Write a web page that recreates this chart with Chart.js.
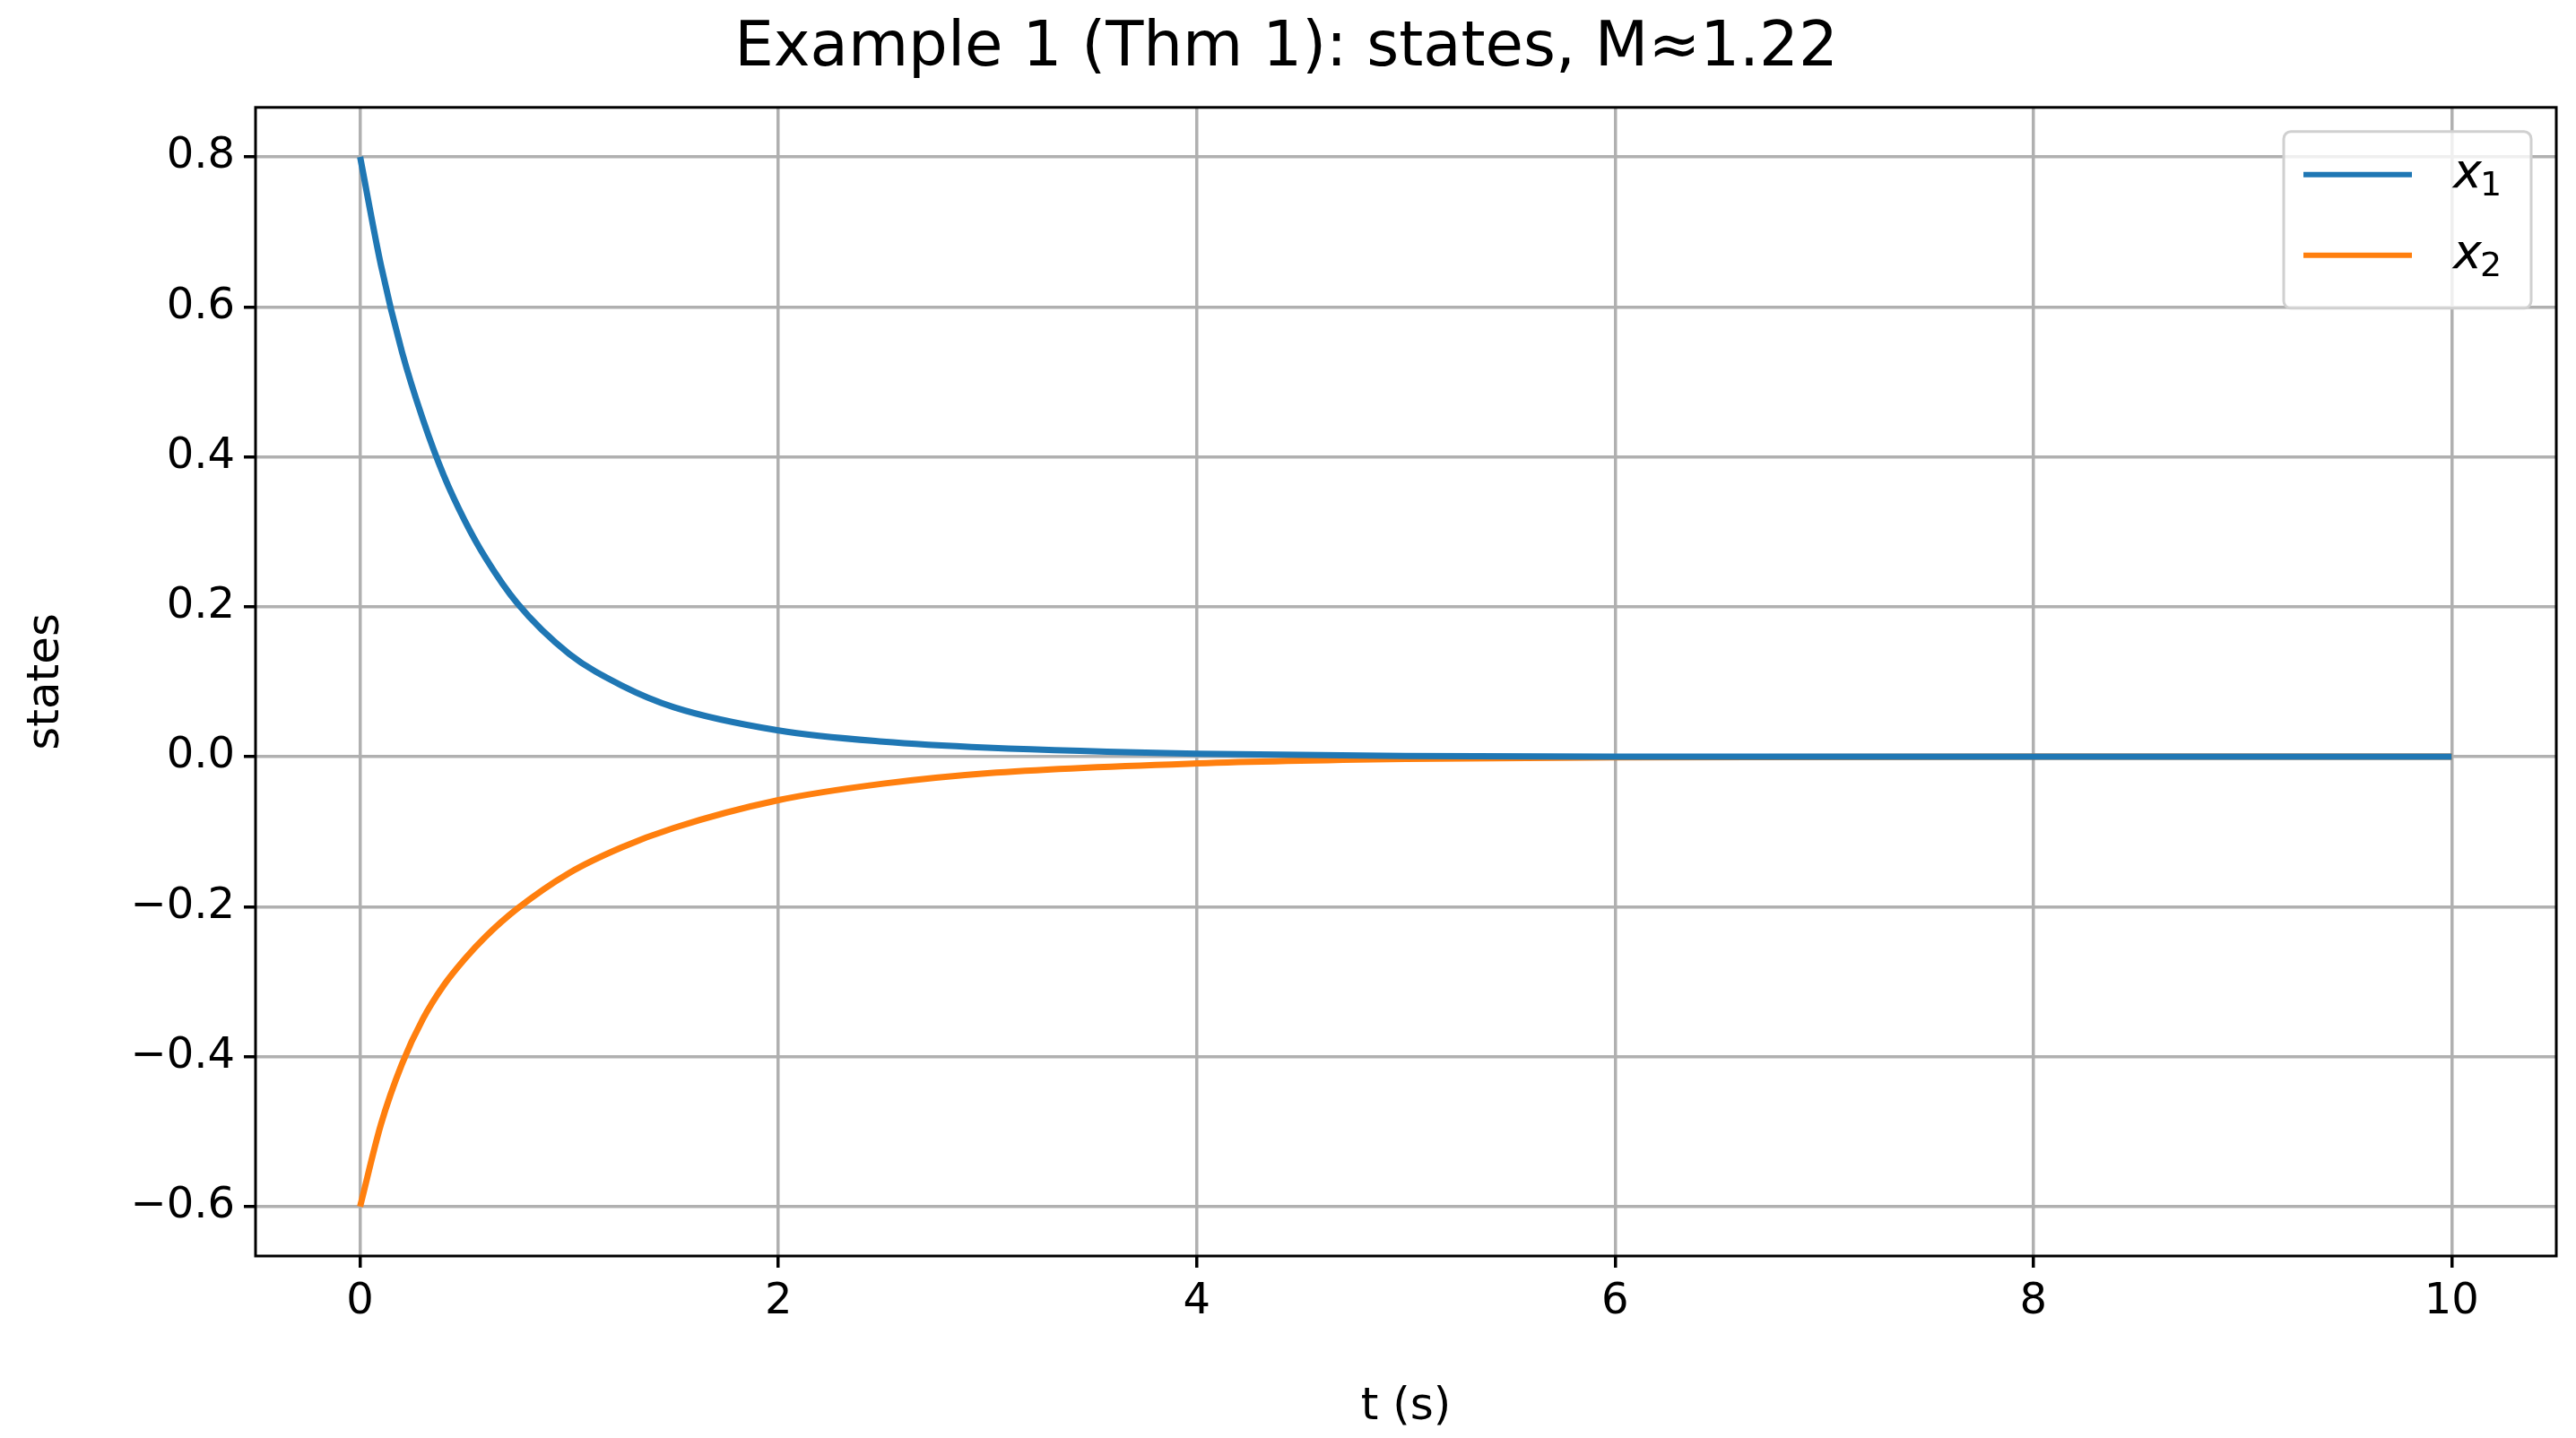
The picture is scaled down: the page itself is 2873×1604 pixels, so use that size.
<!DOCTYPE html>
<html>
<head>
  <meta charset="utf-8">
  <style>
    html, body { margin: 0; padding: 0; background: #fff; }
    #wrap { width: 2873px; height: 1604px; }
  </style>
  <title>Example 1 states</title>
</head>
<body>
  <div id="wrap"><canvas id="myChart" width="2873" height="1604"></canvas></div>

  <script src="https://cdn.jsdelivr.net/npm/chart.js@4/dist/chart.umd.min.js"></script>
  <script>
    // dados
    var tValues = [0, 0.1, 0.2, 0.3, 0.4, 0.5, 0.6, 0.75, 1, 1.25, 1.5, 2, 2.5, 3, 4, 5, 6, 8, 10];
    var x1Values = [0.8, 0.655, 0.54, 0.45, 0.375, 0.315, 0.265, 0.205, 0.137, 0.095, 0.066, 0.035, 0.02, 0.012, 0.004, 0.001, 0, 0, 0];
    var x2Values = [-0.6, -0.49, -0.41, -0.35, -0.305, -0.27, -0.24, -0.203, -0.155, -0.121, -0.095, -0.058, -0.036, -0.022, -0.009, -0.003, -0.001, 0, 0];
    var seriesNames = ['x₁', 'x₂'];
    var seriesColors = ['#1f77b4', '#ff7f0e'];

    function pts(ys) {
      return tValues.map(function (t, i) { return { x: t, y: ys[i] }; });
    }
    function fmt(v) { return v.toFixed(1).replace('-', '−'); }

    var font = 'DejaVu Sans';

    // moldura + legenda estilo matplotlib
    var framePlugin = {
      id: 'frame',
      afterDraw: function (chart) {
        var a = chart.chartArea, c = chart.ctx;
        c.save();
        c.strokeStyle = '#000';
        c.lineWidth = 3;
        c.strokeRect(a.left, a.top, a.right - a.left, a.bottom - a.top);
        // legenda
        var bx = a.right - 304, by = a.top + 27, bw = 276, bh = 197;
        c.fillStyle = 'rgba(255,255,255,0.8)';
        c.strokeStyle = '#d0d0d0';
        c.lineWidth = 3;
        c.beginPath();
        c.roundRect(bx, by, bw, bh, 8);
        c.fill(); c.stroke();
        for (var i = 0; i < seriesNames.length; i++) {
          var y = by + 48 + i * 90;
          c.strokeStyle = seriesColors[i];
          c.lineWidth = 6;
          c.beginPath();
          c.moveTo(bx + 22, y); c.lineTo(bx + 143, y);
          c.stroke();
          c.fillStyle = '#000';
          c.font = 'italic 54px ' + font;
          c.textBaseline = 'middle';
          c.fillText('x', bx + 189, y);
          c.font = '38px ' + font;
          c.fillText(i === 0 ? '1' : '2', bx + 219, y + 13);
        }
        c.restore();
      }
    };

    var ctx = document.getElementById('myChart').getContext('2d');
    var myChart = new Chart(ctx, {
      type: 'scatter',
      data: {
        datasets: [
          { label: seriesNames[0], data: pts(x1Values), showLine: true, borderColor: seriesColors[0], borderWidth: 7, pointRadius: 0, cubicInterpolationMode: 'monotone' },
          { label: seriesNames[1], data: pts(x2Values), showLine: true, borderColor: seriesColors[1], borderWidth: 7, pointRadius: 0, cubicInterpolationMode: 'monotone' }
        ]
      },
      options: {
        responsive: false,
        devicePixelRatio: 1,
        animation: false,
        layout: { padding: { left: 18, right: 22, top: 0, bottom: 0 } },
        plugins: {
          legend: { display: false },
          tooltip: { enabled: false },
          title: {
            display: true,
            text: 'Example 1 (Thm 1): states, M≈1.22',
            color: '#000',
            font: { family: font, size: 69, weight: 'normal' },
            padding: { top: 14, bottom: 23 }
          }
        },
        scales: {
          x: {
            type: 'linear', min: -0.5, max: 10.5,
            afterFit: function (s) { s.height = 203; },
            ticks: { stepSize: 2, includeBounds: false, color: '#000', font: { family: font, size: 48 }, padding: 10 },
            grid: { color: '#b0b0b0', lineWidth: 3.5, tickColor: '#000', tickLength: 13 },
            border: { display: false },
            title: { display: true, text: 't (s)', color: '#000', font: { family: font, size: 50 }, padding: { top: 4 } }
          },
          y: {
            type: 'linear', min: -0.666, max: 0.866,
            afterFit: function (s) { s.width = 267; },
            ticks: { stepSize: 0.2, includeBounds: false, color: '#000', font: { family: font, size: 48 }, padding: 10, callback: function (v) { return fmt(v); } },
            grid: { color: '#b0b0b0', lineWidth: 3.5, tickColor: '#000', tickLength: 13 },
            border: { display: false },
            title: { display: true, text: 'states', color: '#000', font: { family: font, size: 50 }, padding: { bottom: 4 } }
          }
        }
      },
      plugins: [framePlugin]
    });
  </script>
</body>
</html>
